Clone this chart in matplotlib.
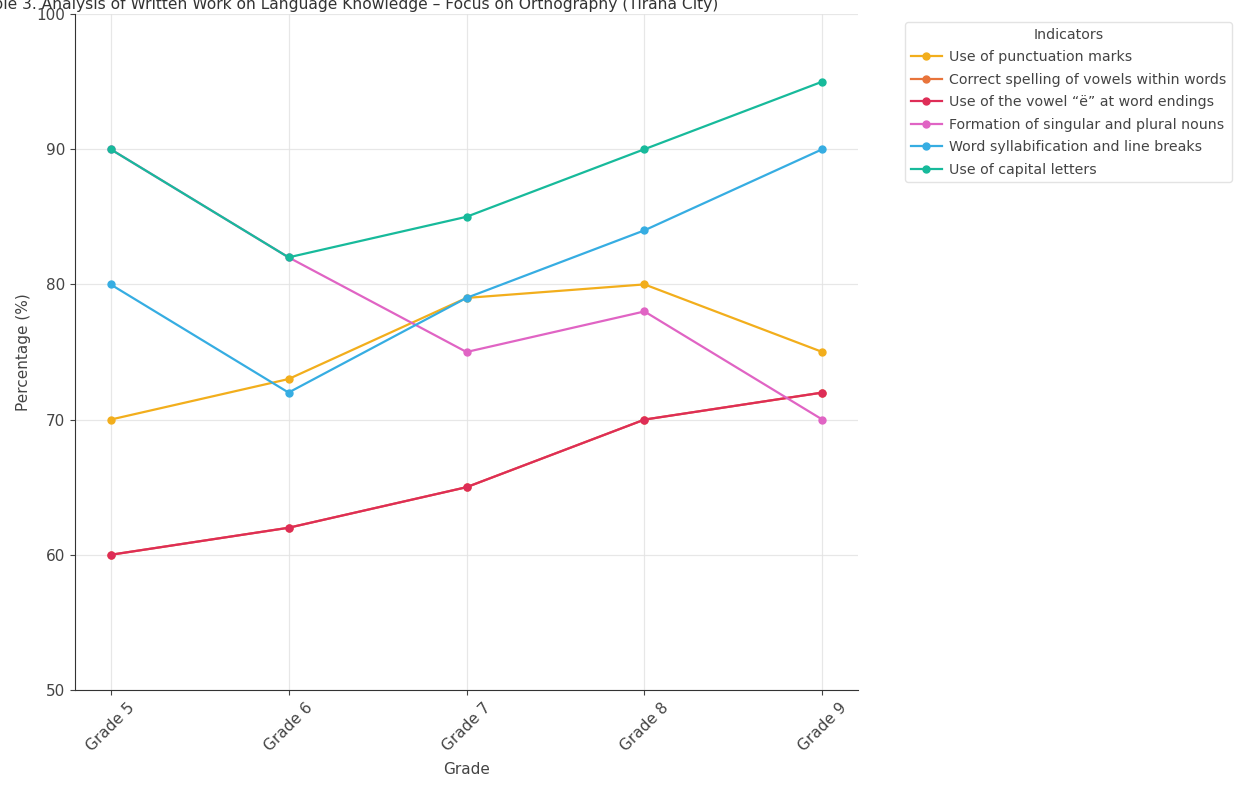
import matplotlib
matplotlib.use("Agg")
import matplotlib.pyplot as plt

grades = ["Grade 5", "Grade 6", "Grade 7", "Grade 8", "Grade 9"]

punctuation = [70, 73, 79, 80, 75]
vowels_within = [60, 62, 65, 70, 72]
vowel_e_endings = [60, 62, 65, 70, 72]
singular_plural = [90, 82, 75, 78, 70]
syllabification = [80, 72, 79, 84, 90]
capital_letters = [90, 82, 85, 90, 95]

labels = [
    "Use of punctuation marks",
    "Correct spelling of vowels within words",
    "Use of the vowel \u201c\u00eb\u201d at word endings",
    "Formation of singular and plural nouns",
    "Word syllabification and line breaks",
    "Use of capital letters",
]
series = [punctuation, vowels_within, vowel_e_endings, singular_plural,
          syllabification, capital_letters]
colors = ["#F2AE1C", "#E8743B", "#DE2D57", "#E064C4", "#36ADE2", "#17BA9B"]

fig = plt.figure(figsize=(12.47, 7.87), dpi=100)
ax = fig.add_axes([75 / 1247, 1 - 690 / 787, (858 - 75) / 1247, (690 - 14) / 787])

x = range(len(grades))
for vals, lab, col in zip(series, labels, colors):
    ax.plot(x, vals, marker="o", markersize=5, linewidth=1.6, color=col, label=lab)

ax.set_ylim(50, 100)
ax.set_yticks([50, 60, 70, 80, 90, 100])
ax.set_xticks(list(x))
ax.set_xticklabels(grades, rotation=45)
ax.tick_params(labelsize=11, colors="#444444", labelcolor="#444444")
ax.grid(True, color="#e2e2e2", linewidth=0.9, alpha=0.8)
ax.spines["top"].set_visible(False)
ax.spines["right"].set_visible(False)
for s in ["left", "bottom"]:
    ax.spines[s].set_color("#333333")
ax.set_xlabel("Grade", fontsize=11, color="#444444", labelpad=6)
ax.set_ylabel("Percentage (%)", fontsize=11, color="#444444")

fig.text(718 / 1247, 1 - 4 / 787,
         "Table 3. Analysis of Written Work on Language Knowledge \u2013 Focus on Orthography (Tirana City)",
         ha="right", va="center", fontsize=11.2, color="#333333")

leg = ax.legend(title="Indicators", loc="upper left", bbox_to_anchor=(905 / 1247, 1 - 22 / 787),
                bbox_transform=fig.transFigure, fontsize=10.2, title_fontsize=10.2,
                labelspacing=0.6, handlelength=2.2, handletextpad=0.5,
                borderaxespad=0, frameon=True, edgecolor="#dddddd")
for t in leg.get_texts():
    t.set_color("#444444")
leg.get_title().set_color("#444444")

fig.savefig("out.png", dpi=100)
